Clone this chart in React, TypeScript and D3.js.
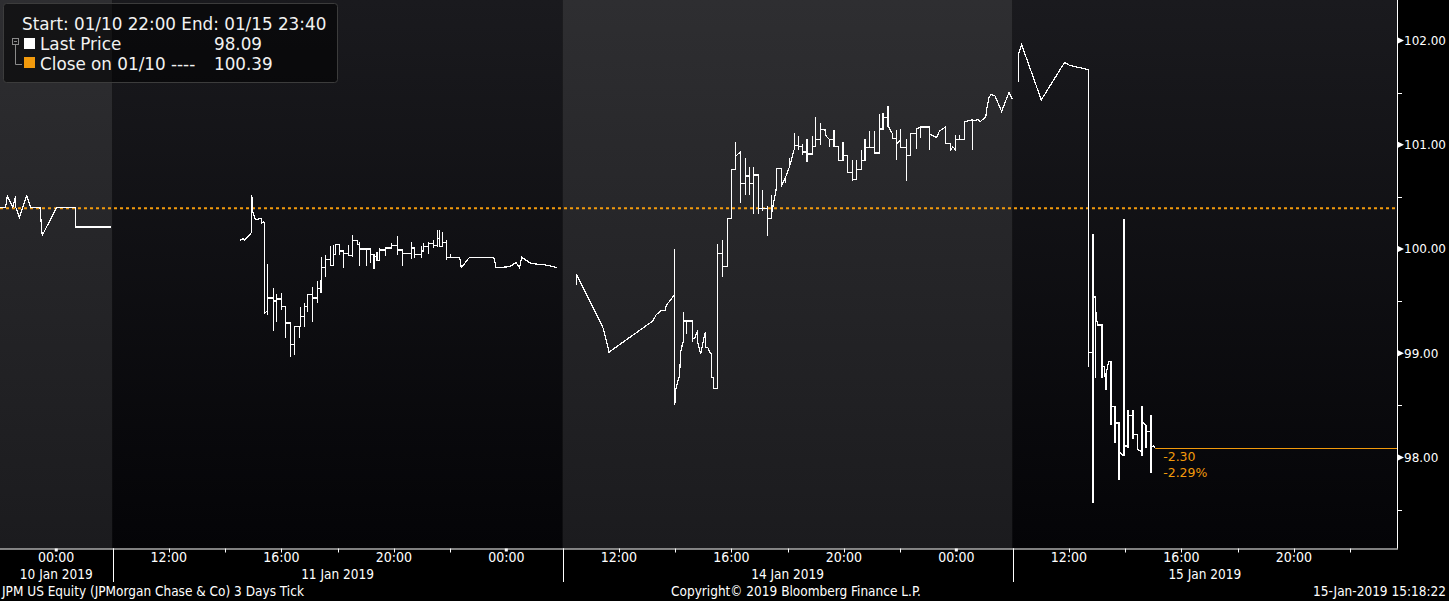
import React from "react";
import * as d3 from "d3";

// ---------------- data ----------------
// Each row: [clock hour (hours past midnight of the session day), price, price, ...]
// Several prices on one row = the vertical range traced at that moment.
const jan10: number[][] = [
  [22.0, 100.4], [22.2, 100.4], [22.26, 100.51], [22.46, 100.4], [22.56, 100.51, 100.4],
  [22.69, 100.3], [22.95, 100.51], [23.09, 100.4], [23.42, 100.4], [23.5, 100.13],
  [24.02, 100.4], [24.68, 100.4, 100.21], [25.94, 100.21],
];

const jan11: number[][] = [
  [14.52, 100.08], [14.66, 100.1], [14.69, 100.08], [14.95, 100.16, 100.52], [14.99, 100.35],
  [15.08, 100.28], [15.25, 100.29], [15.3, 100.29, 100.25], [15.37, 100.26], [15.4, 100.25, 99.38],
  [15.47, 99.4], [15.51, 99.4, 99.86, 99.37, 99.53], [15.71, 99.53, 99.63, 99.21, 99.5],
  [15.82, 99.5, 99.57, 99.3, 99.52], [15.9, 99.52], [16.01, 99.52, 99.58, 99.41, 99.45], [16.08, 99.45],
  [16.16, 99.45, 99.15, 99.29], [16.34, 99.29, 98.96, 99.08], [16.4, 99.08], [16.47, 99.08, 98.98, 99.26],
  [16.65, 99.26, 99.15, 99.26], [16.68, 99.26, 99.44, 99.35], [16.82, 99.35, 99.48, 99.25, 99.45],
  [16.94, 99.45, 99.56, 99.4, 99.56], [17.08, 99.56], [17.12, 99.56, 99.64, 99.3, 99.53],
  [17.28, 99.53, 99.69, 99.48, 99.62], [17.39, 99.62, 99.7, 99.58], [17.44, 99.58, 99.92, 99.82],
  [17.57, 99.82, 99.94, 99.73, 99.9], [17.74, 99.9, 100.03, 99.84], [17.86, 99.84, 100.04, 99.95],
  [17.93, 99.95, 100.04], [18.08, 100.04, 99.94, 99.98], [18.22, 99.98, 99.97, 99.82, 99.96],
  [18.4, 99.96, 100.04, 99.94], [18.54, 99.94, 100.13, 99.92, 100.08], [18.7, 100.08, 100.04],
  [18.78, 100.04, 100.07, 99.84, 100.0], [19.02, 100.0, 99.84, 100.0], [19.18, 100.0, 99.87, 99.95],
  [19.3, 99.95, 99.81, 99.93], [19.4, 99.93, 99.97, 99.89], [19.49, 99.89, 100.01, 99.99],
  [19.71, 99.99, 100.02, 99.93, 100.01], [19.92, 100.01, 100.06, 100.03], [20.13, 100.03, 100.12, 99.94, 99.99],
  [20.32, 99.99, 99.84, 99.96], [20.5, 99.96], [20.64, 99.96, 100.07, 99.9, 100.01], [20.73, 100.01, 99.91, 99.95],
  [20.98, 99.95, 100.03, 99.91, 99.98], [21.07, 99.98, 100.06, 99.97, 100.02], [21.24, 100.02, 100.07, 99.95, 100.05],
  [21.41, 100.05, 100.09, 100.01, 100.03], [21.55, 100.03, 100.18, 100.02, 100.1], [21.63, 100.1, 100.18, 100.02],
  [21.74, 100.02, 100.16, 100.06], [21.87, 100.06, 100.09, 99.89, 99.92], [22.01, 99.92, 99.95, 99.92],
  [22.34, 99.92], [22.4, 99.82], [22.69, 99.92], [23.55, 99.92], [23.64, 99.82], [24.12, 99.83],
  [24.35, 99.87], [24.47, 99.82], [24.55, 99.92], [24.71, 99.89], [24.89, 99.86], [25.3, 99.85],
  [25.54, 99.84], [25.81, 99.82],
];

const jan14: number[][] = [
  [10.49, 99.65, 99.76], [11.43, 99.25], [11.55, 99.13], [11.65, 99.01], [13.21, 99.31], [13.33, 99.37],
  [13.51, 99.41], [13.65, 99.41], [13.69, 99.46], [13.98, 99.56], [13.99, 99.56, 100.0, 98.5],
  [14.02, 98.65], [14.16, 98.79], [14.2, 99.01], [14.28, 99.11], [14.29, 99.1, 99.4, 99.31],
  [14.42, 99.31, 99.18, 99.31], [14.63, 99.31, 99.11, 99.14], [14.69, 99.14], [14.81, 99.22, 99.1],
  [14.91, 98.99], [14.99, 99.1], [15.07, 99.2, 99.06], [15.17, 99.05], [15.25, 99.0],
  [15.29, 99.0, 98.77], [15.37, 98.77, 98.66], [15.52, 98.66, 100.05, 99.96],
  [15.7, 99.96, 100.09, 99.73, 99.83], [15.86, 99.83, 100.29], [16.02, 100.29, 100.76],
  [16.16, 100.76, 101.03, 100.89], [16.32, 100.93], [16.33, 100.93, 100.44, 100.63],
  [16.51, 100.63, 100.87, 100.52, 100.7], [16.65, 100.7, 100.79, 100.52, 100.63],
  [16.8, 100.63, 100.79, 100.34, 100.71], [16.96, 100.71, 100.34, 100.39], [17.12, 100.39, 100.57, 100.36, 100.39],
  [17.28, 100.39, 100.41, 100.12, 100.29], [17.44, 100.29, 100.52, 100.35], [17.6, 100.58, 100.76, 100.77],
  [17.78, 100.77, 100.66, 100.6], [17.93, 100.69, 100.63, 100.69], [18.07, 100.79, 100.87, 100.79],
  [18.25, 100.97, 101.11, 100.99], [18.4, 100.99, 101.08, 100.95, 100.98], [18.54, 100.98, 101.01, 100.9, 100.93],
  [18.69, 100.93, 101.05, 100.83, 100.91], [18.88, 100.91, 101.08, 100.98], [19.0, 100.98, 101.27, 100.98, 101.05],
  [19.16, 101.05, 101.21, 101.0, 101.15], [19.35, 101.14, 101.09], [19.49, 101.05, 100.98, 101.05],
  [19.65, 101.05, 101.14, 100.98], [19.82, 100.98, 100.85], [19.97, 100.85, 101.03, 100.9],
  [20.13, 100.9, 100.85, 100.73], [20.3, 100.73, 100.85, 100.65, 100.67], [20.44, 100.67, 100.85, 100.67, 100.76],
  [20.62, 100.76, 100.95, 100.85], [20.75, 100.85, 101.05, 100.93, 100.97], [20.92, 100.97, 101.13, 101.01, 100.97],
  [21.09, 100.97, 101.13, 100.92], [21.27, 100.92, 101.29, 101.15], [21.39, 101.15, 101.3, 101.14, 101.26],
  [21.57, 101.26, 101.37, 101.17, 101.18], [21.72, 101.11, 101.06], [21.87, 101.06, 101.14, 100.85, 101.0],
  [22.02, 101.05, 101.15, 100.97], [22.22, 100.97, 101.05, 100.65, 100.9], [22.36, 100.9, 101.11, 100.96, 101.11],
  [22.58, 101.11, 101.15, 100.96, 101.15], [22.72, 101.17, 101.06, 101.17], [23.05, 101.17, 100.95, 101.1],
  [23.3, 101.07], [23.4, 101.13], [23.62, 101.17, 101.01], [23.79, 101.01, 100.95], [23.88, 100.98],
  [23.97, 100.95, 101.09, 101.05], [24.12, 101.05, 101.09, 101.05], [24.29, 101.05, 101.22], [24.45, 101.23],
  [24.57, 101.24, 100.95, 101.23], [24.78, 101.24], [24.85, 101.22], [25.05, 101.27], [25.07, 101.33],
  [25.16, 101.45], [25.22, 101.48], [25.37, 101.47], [25.61, 101.32], [25.87, 101.5], [25.99, 101.44],
];

const jan15: number[][] = [
  [10.22, 101.6, 101.88], [10.32, 101.96], [11.02, 101.43], [11.85, 101.79], [12.03, 101.76],
  [12.71, 101.72, 98.87, 99.01], [12.83, 99.01], [12.86, 99.01, 100.14, 97.56, 99.67], [12.88, 99.54],
  [12.95, 99.54, 98.76, 99.39], [12.99, 99.39, 99.32], [13.03, 99.27], [13.18, 99.27, 98.76, 98.87],
  [13.27, 98.87, 98.78], [13.32, 98.78, 98.65, 98.8], [13.42, 98.92], [13.5, 98.92, 98.31, 98.49],
  [13.64, 98.49, 98.14, 98.33], [13.78, 98.33, 97.78, 98.06], [13.92, 98.02], [13.96, 98.02, 100.29, 98.01, 98.11],
  [14.1, 98.11, 98.46, 98.09, 98.4], [14.28, 98.4, 98.46, 98.18, 98.22], [14.43, 98.22, 98.08], [14.55, 98.06],
  [14.6, 98.06, 98.49, 98.01, 98.34], [14.74, 98.31, 98.09, 98.25], [14.92, 98.25, 98.41, 97.85, 98.09],
  [15.0, 98.11], [15.07, 98.09],
];

const sessionLabels = ["10 Jan 2019", "11 Jan 2019", "14 Jan 2019", "15 Jan 2019"];
const sessionStarts = [22, 10, 10, 10];
const sessionEnds = [26, 26, 26, 23 + 40 / 60];
const sessionShade = ["light", "dark", "light", "dark"];
const sessionRows = [jan10, jan11, jan14, jan15];

const timeLabelHours = [0, 12, 16, 20];
const minorTickStepHours = 2;

const yMajorTicks = [98, 99, 100, 101, 102];
const yMinorTicks = [97.5, 98.5, 99.5, 100.5, 101.5];

const prevClose = 100.39;
const lastPrice = 98.09;
const netChange = -2.3;
const pctChange = -2.29;

const legendTitle = "Start: 01/10 22:00 End: 01/15 23:40";
const legendSeries = ["Last Price", "Close on 01/10 ----"];
const footerLeft = "JPM US Equity (JPMorgan Chase & Co) 3 Days  Tick";
const footerCenter = "Copyright\u00A9 2019 Bloomberg Finance L.P.";
const footerRight = "15-Jan-2019 15:18:22";

// ---------------- layout ----------------
const W = 1449;
const H = 601;
const PLOT_R = 1397;
const PLOT_B = 548.5;
const ORANGE = "#f29a0c";
const NARROW = "'DejaVu Sans Condensed', 'Liberation Sans Narrow', sans-serif";
const SANS = "'DejaVu Sans', Verdana, sans-serif";

export default function App() {
  let acc = 0;
  const sessions = sessionLabels.map((label, i) => {
    const s = { label, start: sessionStarts[i], end: sessionEnds[i], shade: sessionShade[i], rows: sessionRows[i], offset: acc };
    acc += s.end - s.start;
    return s;
  });
  const total = acc;

  const x = d3.scaleLinear().domain([0, total]).range([0, PLOT_R]);
  const y = d3.scaleLinear().domain([97.127, 102.388]).range([PLOT_B, 0]);
  const xOf = (s: any, h: number) => x(s.offset + h - s.start);

  const line = d3.line<[number, number]>().x((d) => d[0]).y((d) => d[1]);

  const paths = sessions.map((s) => {
    const pts: [number, number][] = [];
    s.rows.forEach((r: number[]) => {
      const t = r[0];
      for (let k = 1; k < r.length; k++) pts.push([xOf(s, t), y(r[k])]);
    });
    return line(pts) || "";
  });

  const lastSess = sessions[sessions.length - 1];
  const lastRow = lastSess.rows[lastSess.rows.length - 1];
  const lastX = xOf(lastSess, lastRow[0]);

  const ticks: { x: number; label: string | null; midnight: boolean }[] = [];
  sessions.forEach((s) => {
    const first = Math.ceil(s.start / minorTickStepHours) * minorTickStepHours;
    for (let h = first; h <= s.end; h += minorTickStepHours) {
      if (h === s.start) continue;
      const hh = h % 24;
      ticks.push({
        x: xOf(s, h),
        label: timeLabelHours.includes(hh) ? `${String(hh).padStart(2, "0")}:00` : null,
        midnight: hh === 0,
      });
    }
  });

  return (
    <svg width={W} height={H} style={{ position: "absolute", left: 0, top: 0, background: "#000" }}>
      <defs>
        <linearGradient id="bandLight" x1="0" y1="0" x2="0" y2="1">
          <stop offset="0" stopColor="#2e2e31" />
          <stop offset="1" stopColor="#1b1b1e" />
        </linearGradient>
        <linearGradient id="bandDark" x1="0" y1="0" x2="0" y2="1">
          <stop offset="0" stopColor="#1a1a1e" />
          <stop offset="1" stopColor="#040407" />
        </linearGradient>
      </defs>
      <rect x={0} y={0} width={W} height={H} fill="#000" />

      {/* session bands */}
      {sessions.map((s, i) => (
        <rect
          key={"b" + i}
          x={xOf(s, s.start)}
          y={0}
          width={xOf(s, s.end) - xOf(s, s.start)}
          height={PLOT_B}
          fill={s.shade === "light" ? "url(#bandLight)" : "url(#bandDark)"}
        />
      ))}

      {/* previous close dotted line */}
      <line x1={0} x2={PLOT_R} y1={y(prevClose)} y2={y(prevClose)} stroke={ORANGE} strokeWidth={2} strokeDasharray="3,3" />

      {/* price paths */}
      {paths.map((d, i) => (
        <path key={"p" + i} d={d} fill="none" stroke="#fff" strokeWidth={1.2} shapeRendering="crispEdges" />
      ))}

      {/* last price line */}
      <line x1={lastX} x2={PLOT_R} y1={Math.round(y(lastPrice)) + 0.5} y2={Math.round(y(lastPrice)) + 0.5} stroke={ORANGE} strokeWidth={1} />
      <text x={lastX + 8} y={y(lastPrice) + 13} fill={ORANGE} fontFamily={SANS} fontSize={12.5}>
        {netChange.toFixed(2)}
      </text>
      <text x={lastX + 8} y={y(lastPrice) + 29} fill={ORANGE} fontFamily={SANS} fontSize={12.5}>
        {pctChange.toFixed(2)}%
      </text>

      {/* axes lines */}
      <line x1={PLOT_R + 0.5} x2={PLOT_R + 0.5} y1={0} y2={PLOT_B} stroke="#fff" strokeWidth={1} />
      <line x1={0} x2={PLOT_R + 1} y1={PLOT_B + 0.5} y2={PLOT_B + 0.5} stroke="#fff" strokeWidth={1} />

      {/* right axis ticks */}
      {yMinorTicks.map((v) => (
        <line key={"ym" + v} x1={PLOT_R + 1} x2={PLOT_R + 5} y1={Math.round(y(v)) + 0.5} y2={Math.round(y(v)) + 0.5} stroke="#fff" />
      ))}
      {yMajorTicks.map((v) => {
        const yy = y(v);
        return (
          <g key={"yM" + v}>
            <path d={`M${PLOT_R + 1},${yy - 3} L${PLOT_R + 7},${yy} L${PLOT_R + 1},${yy + 3} Z`} fill="#fff" />
            <text x={PLOT_R + 7} y={yy} dy="0.36em" fill="#fff" fontFamily={SANS} fontSize={12}>
              {v.toFixed(2)}
            </text>
          </g>
        );
      })}

      {/* bottom axis ticks */}
      {ticks.map((t, i) => (
        <g key={"t" + i}>
          {t.midnight ? (
            <rect x={t.x - 1.5} y={PLOT_B} width={3} height={3} fill="#fff" />
          ) : (
            <line x1={Math.round(t.x) + 0.5} x2={Math.round(t.x) + 0.5} y1={PLOT_B} y2={PLOT_B + 4} stroke="#fff" />
          )}
          {t.label && (
            <text x={t.x} y={562} textAnchor="middle" fill="#fff" fontFamily={NARROW} fontSize={14}>
              {t.label}
            </text>
          )}
        </g>
      ))}
      {sessions.slice(1).map((s, i) => (
        <line key={"sep" + i} x1={Math.round(xOf(s, s.start)) + 0.5} x2={Math.round(xOf(s, s.start)) + 0.5} y1={PLOT_B} y2={582} stroke="#fff" />
      ))}
      {sessions.map((s, i) => (
        <text key={"d" + i} x={(xOf(s, s.start) + xOf(s, s.end)) / 2} y={579} textAnchor="middle" fill="#fff" fontFamily={NARROW} fontSize={13.5}>
          {s.label}
        </text>
      ))}

      {/* footer */}
      <text x={2} y={596} fill="#fff" fontFamily={NARROW} fontSize={13.5}>{footerLeft}</text>
      <text x={796} y={596} textAnchor="middle" fill="#fff" fontFamily={NARROW} fontSize={13.5}>{footerCenter}</text>
      <text x={1446} y={596} textAnchor="end" fill="#fff" fontFamily={NARROW} fontSize={13.5}>{footerRight}</text>

      {/* legend */}
      <rect x={3.5} y={3.5} width={334} height={79} rx={3} fill="rgba(0,0,0,0.55)" stroke="#3c3c3c" />
      <text x={22} y={30} fill="#f2f2f2" fontFamily={SANS} fontSize={16.8}>{legendTitle}</text>
      <rect x={12.5} y={38.5} width={6} height={6} fill="none" stroke="#8a8a8a" />
      <line x1={14} x2={17} y1={41.5} y2={41.5} stroke="#8a8a8a" />
      <path d="M15.5,45 L15.5,64.5 L22,64.5" fill="none" stroke="#8a8a8a" />
      <rect x={24} y={38} width={11} height={11} fill="#fff" />
      <rect x={24} y={57} width={11} height={11} fill={ORANGE} />
      <text x={40} y={50} fill="#f2f2f2" fontFamily={SANS} fontSize={16.8}>{legendSeries[0]}</text>
      <text x={214} y={50} fill="#f2f2f2" fontFamily={SANS} fontSize={16.8}>{lastPrice.toFixed(2)}</text>
      <text x={40} y={70} fill="#f2f2f2" fontFamily={SANS} fontSize={16.8}>{legendSeries[1]}</text>
      <text x={214} y={70} fill="#f2f2f2" fontFamily={SANS} fontSize={16.8}>{prevClose.toFixed(2)}</text>
    </svg>
  );
}
